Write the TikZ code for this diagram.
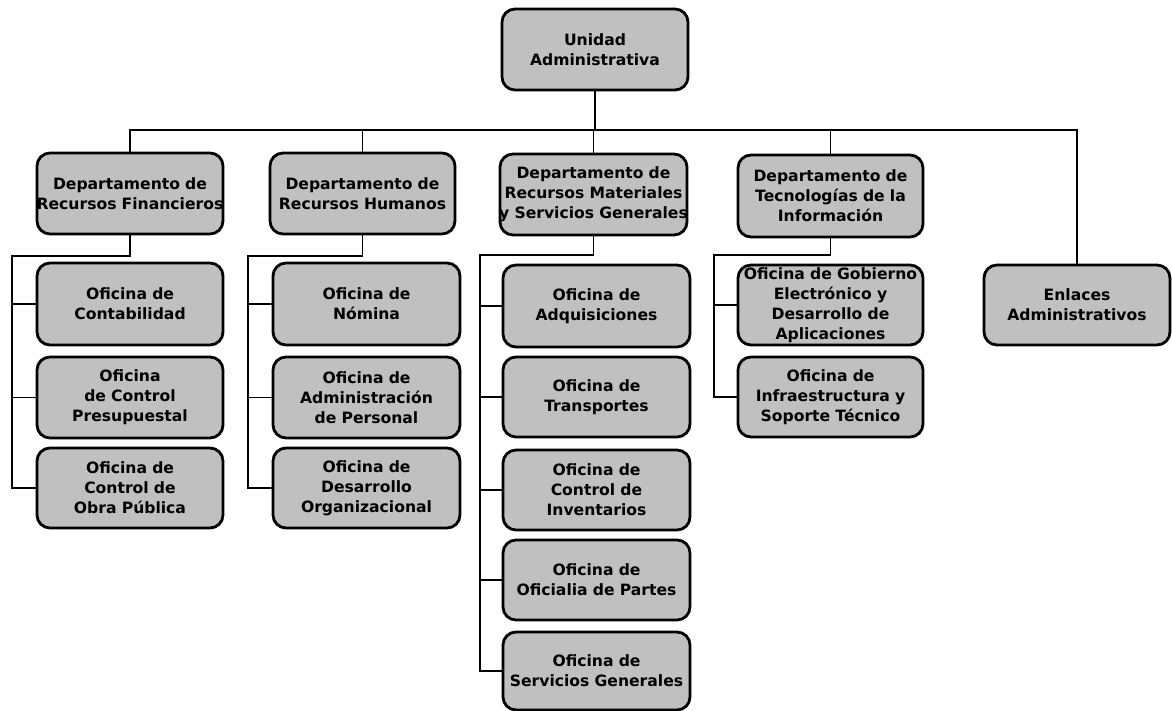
\documentclass[tikz,border=0pt]{standalone}
\usepackage{fontspec}
\setmainfont{DejaVu Sans}
\definecolor{boxgray}{HTML}{C0C0C0}
\newcommand{\wideline}[1]{\makebox[\linewidth][c]{#1}}
\tikzset{
  unit/.style={draw=black, line width=2.8pt, fill=boxgray, rounded corners=13pt,
    text width=#1, minimum width=#1, align=center, inner sep=0pt,
    font=\bfseries\fontsize{15.6}{20}\selectfont},
  unit/.default=186pt,
  conn/.style={draw=black, line width=1.8pt}
}
\begin{document}
\begin{tikzpicture}[x=1pt,y=-1pt]
\useasboundingbox (0,0) rectangle (1172,711);
% top
\node[unit, minimum height=81pt] (ua) at (595,49.5) {Unidad\\Administrativa};
% departments
\node[unit, minimum height=81pt] (rf) at (130,193.5) {Departamento de\\\wideline{Recursos Financieros}};
\node[unit=185pt, minimum height=81pt] (rh) at (362.5,193.5) {Departamento de\\Recursos Humanos};
\node[unit=187pt, minimum height=81pt] (rm) at (593.5,194.5) {Departamento de\\Recursos Materiales\\\wideline{y Servicios Generales}};
\node[unit=185pt, minimum height=82pt] (ti) at (830.5,196) {Departamento de\\Tecnologías de la\\Información};
\node[unit, minimum height=80pt] (en) at (1077,305) {Enlaces\\Administrativos};
% RF offices
\node[unit, minimum height=82pt] (rf1) at (130,304) {Oficina de\\Contabilidad};
\node[unit, minimum height=81pt] (rf2) at (130,397.5) {Oficina\\de Control\\Presupuestal};
\node[unit, minimum height=80pt] (rf3) at (130,488) {Oficina de\\Control de\\Obra Pública};
% RH offices
\node[unit=187pt, minimum height=82pt] (rh1) at (366.5,304) {Oficina de\\Nómina};
\node[unit=187pt, minimum height=81pt] (rh2) at (366.5,397.5) {Oficina de\\Administración\\de Personal};
\node[unit=187pt, minimum height=80pt] (rh3) at (366.5,488) {Oficina de\\Desarrollo\\Organizacional};
% RM offices
\node[unit=187pt, minimum height=82pt] (rm1) at (596.5,306) {Oficina de\\Adquisiciones};
\node[unit=187pt, minimum height=80pt] (rm2) at (596.5,397) {Oficina de\\Transportes};
\node[unit=187pt, minimum height=80pt] (rm3) at (596.5,490) {Oficina de\\Control de\\Inventarios};
\node[unit=187pt, minimum height=80pt] (rm4) at (596.5,580) {Oficina de\\Oficialia de Partes};
\node[unit=187pt, minimum height=78pt] (rm5) at (596.5,671) {Oficina de\\\wideline{Servicios Generales}};
% TI offices
\node[unit=185pt, minimum height=80pt] (ti1) at (830.5,305) {\wideline{Oficina de Gobierno}\\Electrónico y\\Desarrollo de\\Aplicaciones};
\node[unit=185pt, minimum height=80pt] (ti2) at (830.5,397) {Oficina de\\Infraestructura y\\Soporte Técnico};
% top bus
\coordinate (busL) at (130,130);
\coordinate (busR) at (1077,130);
\draw[conn] (ua.south) -- (ua.south |- busL);
\draw[conn] (rf.north) -- (busL) -- (busR) -- (en.north);
\draw[conn] (rh.north) -- (rh.north |- busL);
\draw[conn] (rm.north) -- (rm.north |- busL);
\draw[conn] (ti.north) -- (ti.north |- busL);
% RF branch
\coordinate (rfb) at (12,256);
\draw[conn] (rf.south) |- (rfb) -- (rfb |- rf3.west) -- (rf3.west);
\draw[conn] (rfb |- rf1.west) -- (rf1.west);
\draw[conn] (rfb |- rf2.west) -- (rf2.west);
% RH branch
\coordinate (rhb) at (248,256);
\draw[conn] (rh.south) |- (rhb) -- (rhb |- rh3.west) -- (rh3.west);
\draw[conn] (rhb |- rh1.west) -- (rh1.west);
\draw[conn] (rhb |- rh2.west) -- (rh2.west);
% RM branch
\coordinate (rmb) at (480,255);
\draw[conn] (rm.south) |- (rmb) -- (rmb |- rm5.west) -- (rm5.west);
\draw[conn] (rmb |- rm1.west) -- (rm1.west);
\draw[conn] (rmb |- rm2.west) -- (rm2.west);
\draw[conn] (rmb |- rm3.west) -- (rm3.west);
\draw[conn] (rmb |- rm4.west) -- (rm4.west);
% TI branch
\coordinate (tib) at (714,255);
\draw[conn] (ti.south) |- (tib) -- (tib |- ti2.west) -- (ti2.west);
\draw[conn] (tib |- ti1.west) -- (ti1.west);
\end{tikzpicture}
\end{document}
